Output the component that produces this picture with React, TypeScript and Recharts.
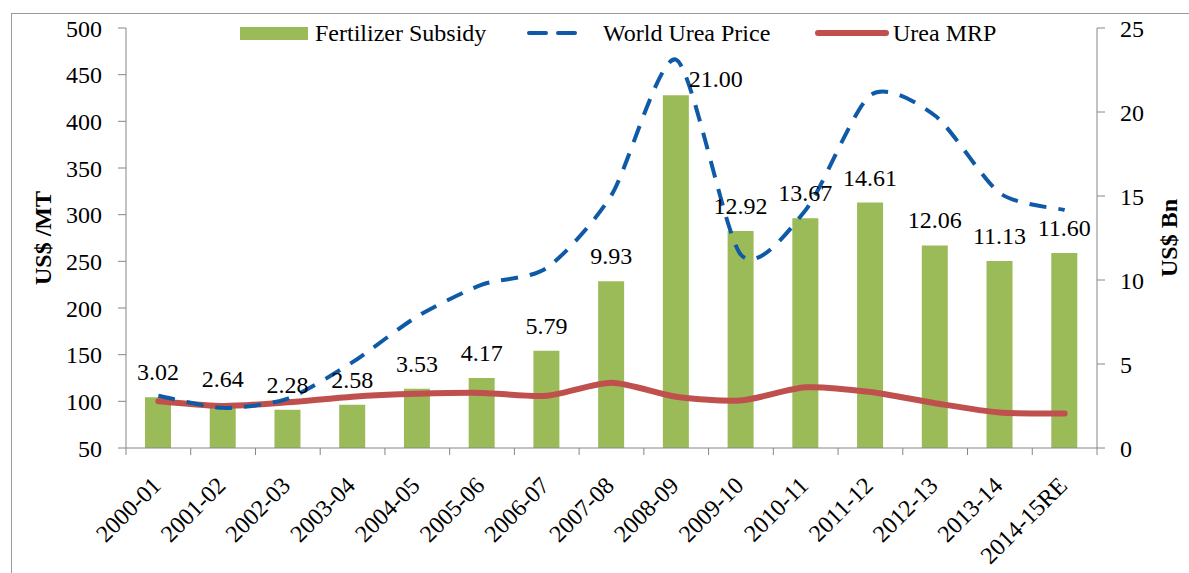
import {
  ComposedChart,
  Bar,
  Line,
  XAxis,
  YAxis,
  LabelList,
} from "recharts";

const categories = [
  "2000-01", "2001-02", "2002-03", "2003-04", "2004-05", "2005-06", "2006-07",
  "2007-08", "2008-09", "2009-10", "2010-11", "2011-12", "2012-13", "2013-14",
  "2014-15RE",
];
// US$ Bn (right axis)
const fertilizerSubsidy = [
  3.02, 2.64, 2.28, 2.58, 3.53, 4.17, 5.79, 9.93, 21.0, 12.92, 13.67, 14.61,
  12.06, 11.13, 11.6,
];
// US$/MT (left axis)
const worldUreaPrice = [
  106, 93, 103, 142, 191, 225, 243, 321, 466, 257, 305, 428, 406, 323, 305,
];
const ureaMRP = [
  100, 95, 99, 105, 108, 109, 106, 120, 105, 101, 115, 110, 98, 88, 87,
];
const leftTicks = [50, 100, 150, 200, 250, 300, 350, 400, 450, 500];
const rightTicks = [0, 5, 10, 15, 20, 25];

const chartData = categories.map((name, i) => ({
  name,
  subsidy: fertilizerSubsidy[i],
  world: worldUreaPrice[i],
  mrp: ureaMRP[i],
}));

const FONT = "Liberation Serif, Times New Roman, serif";
const AXIS_GREY = "#868686";
const GREEN = "#9BBB59";
const BLUE = "#0F5AA6";
const RED = "#C0504D";

const PLOT_LEFT = 126;
const PLOT_RIGHT = 1097;
const PLOT_BOTTOM = 448;
const BAND = (PLOT_RIGHT - PLOT_LEFT) / categories.length;
const maxSubsidy = Math.max(...fertilizerSubsidy);

// spreadsheet-style smoothed line (bezier through every point)
const smoothCurve = (context: any) => {
  let pts: [number, number][] = [];
  const k = 1 / 8;
  return {
    areaStart() {},
    areaEnd() {},
    lineStart() {
      pts = [];
    },
    point(x: number, y: number) {
      pts.push([+x, +y]);
    },
    lineEnd() {
      if (!pts.length) return;
      context.moveTo(pts[0][0], pts[0][1]);
      for (let i = 0; i < pts.length - 1; i++) {
        const p0 = pts[i - 1] || pts[i];
        const p1 = pts[i];
        const p2 = pts[i + 1];
        const p3 = pts[i + 2] || p2;
        context.bezierCurveTo(
          p1[0] + (p2[0] - p0[0]) * k,
          p1[1] + (p2[1] - p0[1]) * k,
          p2[0] - (p3[0] - p1[0]) * k,
          p2[1] - (p3[1] - p1[1]) * k,
          p2[0],
          p2[1]
        );
      }
    },
  };
};

function CategoryTick(props: any) {
  const { x, y, payload, index } = props;
  const isLast = index === categories.length - 1;
  const ax = x + 4;
  const ay = y + 31;
  return (
    <g>
      <line x1={x - BAND / 2} x2={x - BAND / 2} y1={PLOT_BOTTOM} y2={PLOT_BOTTOM + 7} stroke={AXIS_GREY} />
      {isLast && (
        <line x1={x + BAND / 2} x2={x + BAND / 2} y1={PLOT_BOTTOM} y2={PLOT_BOTTOM + 7} stroke={AXIS_GREY} />
      )}
      <text
        x={ax}
        y={ay}
        textAnchor="end"
        fontFamily={FONT}
        fontSize={24}
        fill="#000"
        transform={`rotate(-45, ${ax}, ${ay})`}
      >
        {payload.value}
      </text>
    </g>
  );
}

function SubsidyLabel(props: any) {
  const { x, y, width, value } = props;
  const isPeak = value === maxSubsidy;
  const cx = x + width / 2 + (isPeak ? 40 : 0);
  const cy = isPeak ? y - 8 : y - 17;
  return (
    <text x={cx} y={cy} textAnchor="middle" fontFamily={FONT} fontSize={24} fill="#000">
      {Number(value).toFixed(2)}
    </text>
  );
}

function Legend() {
  const text: React.CSSProperties = {
    fontFamily: FONT,
    fontSize: 24,
    lineHeight: "28px",
    color: "#000",
    position: "absolute",
    top: 19,
    whiteSpace: "nowrap",
  };
  return (
    <>
      <svg
        width={1189}
        height={60}
        style={{ position: "absolute", left: 0, top: 0, pointerEvents: "none" }}
      >
        <rect x={240} y={27} width={68} height={13} fill={GREEN} />
        <line x1={529} x2={582} y1={33} y2={33} stroke={BLUE} strokeWidth={4} strokeDasharray="17 12" strokeLinecap="round" />
        <line x1={818} x2={886} y1={33} y2={33} stroke={RED} strokeWidth={6} strokeLinecap="round" />
      </svg>
      <span style={{ ...text, left: 315 }}>Fertilizer Subsidy</span>
      <span style={{ ...text, left: 603 }}>World Urea Price</span>
      <span style={{ ...text, left: 893 }}>Urea MRP</span>
    </>
  );
}

export default function App() {
  return (
    <div
      style={{
        position: "absolute",
        left: 0,
        top: 0,
        width: 1189,
        height: 573,
        background: "#fff",
        overflow: "hidden",
      }}
    >
      <div
        style={{
          position: "absolute",
          left: 11,
          top: 13,
          width: 1200,
          height: 600,
          border: "1.5px solid #9a9a9a",
        }}
      />
      <ComposedChart
        width={1189}
        height={573}
        data={chartData}
        margin={{ top: 28, right: 0, bottom: 573 - PLOT_BOTTOM - 110, left: 0 }}
        barCategoryGap={0}
        style={{ position: "absolute", left: 0, top: 0 }}
      >
        <XAxis
          dataKey="name"
          height={110}
          stroke={AXIS_GREY}
          tickLine={false}
          interval={0}
          tick={<CategoryTick />}
        />
        <YAxis
          yAxisId="left"
          orientation="left"
          width={PLOT_LEFT}
          domain={[50, 500]}
          ticks={leftTicks}
          stroke={AXIS_GREY}
          tickSize={8}
          tick={{ fontFamily: FONT, fontSize: 24, fill: "#000" }}
          tickMargin={16}
          label={{
            content: () => (
              <text
                x={43}
                y={238}
                textAnchor="middle"
                dominantBaseline="central"
                fontFamily={FONT}
                fontSize={24}
                fontWeight="bold"
                fill="#000"
                transform="rotate(-90, 43, 238)"
              >
                US$ /MT
              </text>
            ),
          }}
        />
        <YAxis
          yAxisId="right"
          orientation="right"
          width={1189 - PLOT_RIGHT}
          domain={[0, 25]}
          ticks={rightTicks}
          stroke={AXIS_GREY}
          tickSize={8}
          tick={{ fontFamily: FONT, fontSize: 24, fill: "#000" }}
          tickMargin={15}
          label={{
            content: () => (
              <text
                x={1169}
                y={238}
                textAnchor="middle"
                dominantBaseline="central"
                fontFamily={FONT}
                fontSize={24}
                fontWeight="bold"
                fill="#000"
                transform="rotate(-90, 1169, 238)"
              >
                US$ Bn
              </text>
            ),
          }}
        />
        <Bar
          yAxisId="right"
          dataKey="subsidy"
          fill={GREEN}
          barSize={26}
          isAnimationActive={false}
        >
          <LabelList dataKey="subsidy" content={<SubsidyLabel />} />
        </Bar>
        <Line
          yAxisId="left"
          type={smoothCurve as any}
          dataKey="mrp"
          stroke={RED}
          strokeWidth={6}
          dot={false}
          strokeLinecap="round"
          isAnimationActive={false}
        />
        <Line
          yAxisId="left"
          type={smoothCurve as any}
          dataKey="world"
          stroke={BLUE}
          strokeWidth={4}
          strokeDasharray="17 12"
          dot={false}
          isAnimationActive={false}
        />
      </ComposedChart>
      <Legend />
    </div>
  );
}
